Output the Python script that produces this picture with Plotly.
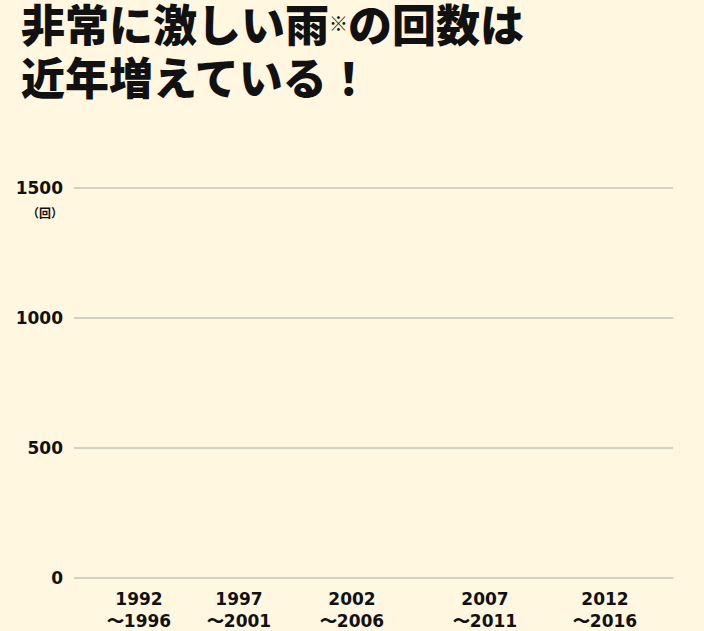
import plotly.graph_objects as go

BG_COLOR = "#fff7e0"
GRID_COLOR = "#d3cfc6"
TEXT_COLOR = "#111111"
TITLE_FONT = "Noto Sans CJK JP"
TICK_FONT = "DejaVu Sans"

# periods shown on the x axis
period_start = ["1992", "1997", "2002", "2007", "2012"]
period_end = ["1996", "2001", "2006", "2011", "2016"]
# bar heights at the moment of capture (nothing drawn yet)
counts = [0, 0, 0, 0, 0]

y_ticks = [0, 500, 1000, 1500]

# horizontal placement of each period on the axis (layout only)
X_POS = [65, 165, 278, 411, 531]

tick_text = [f"{a}<br>〜{b}" for a, b in zip(period_start, period_end)]

fig = go.Figure()
fig.add_trace(
    go.Bar(
        x=X_POS,
        y=counts,
        width=60,
        marker=dict(color="#3a7bd5", line=dict(width=0)),
        hoverinfo="skip",
    )
)

fig.update_xaxes(
    range=[0, 599],
    tickvals=X_POS,
    ticktext=tick_text,
    showgrid=False,
    zeroline=False,
    showline=False,
    ticks="",
    tickfont=dict(family=TICK_FONT, size=17, color=TEXT_COLOR, weight="bold"),
    ticklabelstandoff=7,
    automargin=False,
    fixedrange=True,
)
# range padded a touch so the 0 and 1500 gridlines are drawn
fig.update_yaxes(
    range=[-8, 1508],
    tickvals=y_ticks,
    showgrid=True,
    gridcolor=GRID_COLOR,
    gridwidth=2,
    zeroline=False,
    showline=False,
    ticks="",
    tickfont=dict(family=TICK_FONT, size=17, color=TEXT_COLOR, weight="bold"),
    ticklabelstandoff=10,
    automargin=False,
    fixedrange=True,
)

title_lines = [
    "非常に激しい雨<span style='font-size:27px'><sup>※</sup></span>の回数は",
    "近年増えている！",
]
for i, line in enumerate(title_lines):
    fig.add_annotation(
        text=line,
        xref="paper",
        yref="paper",
        x=-0.092,
        y=1.414 - i * 0.134,
        xanchor="left",
        yanchor="middle",
        align="left",
        showarrow=False,
        font=dict(family=TITLE_FONT, size=44, color=TEXT_COLOR, weight=900),
    )
fig.add_annotation(
    text="（回）",
    xref="paper",
    yref="paper",
    x=-0.048,
    y=0.934,
    xanchor="center",
    yanchor="middle",
    showarrow=False,
    font=dict(family=TITLE_FONT, size=12, color=TEXT_COLOR, weight="bold"),
)

fig.update_layout(
    width=704,
    height=631,
    showlegend=False,
    plot_bgcolor=BG_COLOR,
    paper_bgcolor=BG_COLOR,
    margin=dict(t=186, b=51, l=74, r=31, pad=0),
)

fig.write_html(
    "out.html",
    config={"displayModeBar": False},
    post_script="document.body.style.margin='0';",
)
